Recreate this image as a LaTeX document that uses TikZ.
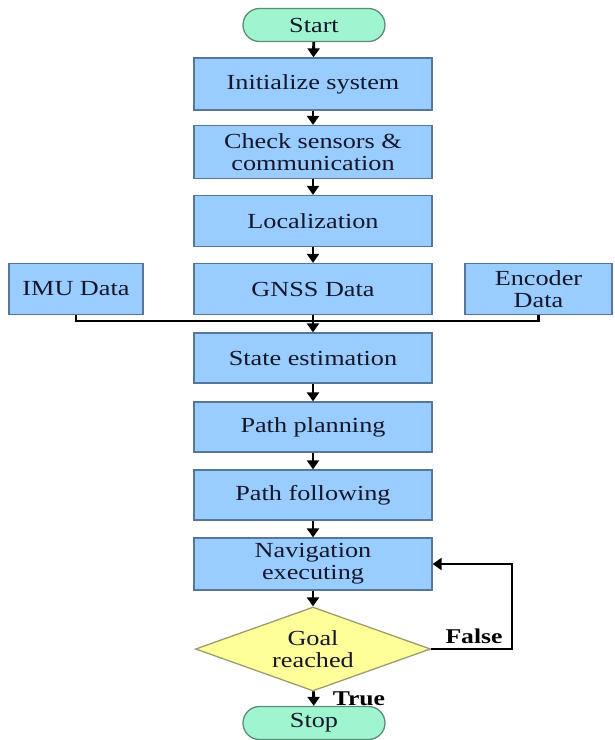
\documentclass[tikz,border=0pt]{standalone}
\usepackage{fontspec}
\setmainfont{Liberation Serif}[FakeStretch=1.22]
\usetikzlibrary{arrows.meta,calc,positioning,shapes.geometric}

\definecolor{boxblue}{HTML}{99CCFF}
\definecolor{boxedge}{HTML}{55779C}
\definecolor{termgreen}{HTML}{9EF5CE}
\definecolor{termedge}{HTML}{5C8C7A}
\definecolor{askyellow}{HTML}{FFFF99}
\definecolor{askedge}{HTML}{9C9C70}
\definecolor{ink}{HTML}{16162A}

\begin{document}
\begin{tikzpicture}
[
	              x = 1pt, y = -1pt,
	          flow/.style = { draw=black, line width=2.8pt, -{Triangle[width=12pt,length=9pt]} },
	          wire/.style = { draw=black, line width=2.8pt },
	       process/.style = { draw=boxedge, line width=1.3pt, fill=boxblue, rectangle,
	                          minimum width=238pt, minimum height=51pt, inner sep=0pt,
	                          align=center, text=ink, font=\fontsize{21.5}{22}\selectfont },
	      terminal/.style = { process, draw=termedge, fill=termgreen, rounded corners=16.5pt,
	                          minimum width=142pt, minimum height=33pt },
	      decision/.style = { process, diamond, draw=askedge, fill=askyellow, rounded corners=0pt,
	                          shape aspect=2.8, minimum width=235pt, minimum height=84pt },
	       caption/.style = { draw=none, fill=none, inner sep=0pt, text=black,
	                          font=\fontsize{21}{22}\selectfont\bfseries }
]
	\useasboundingbox (0,0) rectangle (614,740);

	% main column
	\node (start)  at (314,25)  [terminal] {Start};
	\node (init)   at (313,84)  [process, minimum height=52pt] {Initialize system};
	\node (check)  at (313,152) [process, minimum height=53pt] {Check sensors \&\\communication};
	\node (local)  at (313,221) [process] {Localization};
	\node (gnss)   at (313,289) [process] {GNSS Data};
	\node (state)  at (313,358) [process, minimum height=50pt] {State estimation};
	\node (plan)   at (313,427) [process, minimum height=50pt] {Path planning};
	\node (follow) at (313,495) [process, minimum height=50pt] {Path following};
	\node (nav)    at (313,564) [process, minimum height=52pt] {Navigation\\executing};
	\node (goal)   at (313,649) [decision] {Goal\\reached};
	\node (stop)   at (314,723) [terminal] {Stop};

	% side sensors
	\node (imu) at (76,289)    [process, minimum width=134pt] {IMU Data};
	\node (enc) at (538.5,289) [process, minimum width=147pt] {Encoder\\Data};

	\coordinate (bus)  at (313,321);
	\coordinate (back) at (512,649);

	\draw [flow] (start) -- (init);
	\draw [flow] (init) -- (check);
	\draw [flow] (check) -- (local);
	\draw [flow] (local) -- (gnss);
	\draw [wire] (imu.south) |- (bus);
	\draw [wire] (enc.south) |- (bus);
	\draw [flow] (gnss) -- (state);
	\draw [flow] (state) -- (plan);
	\draw [flow] (plan) -- (follow);
	\draw [flow] (follow) -- (nav);
	\draw [flow] (nav) -- (goal);
	\draw [flow] (goal) -- (stop);
	\draw [flow] (goal.east) -- (back) |- (nav.east);

	\node (false) at (474,636) [caption] {False};
	\node (true)  at (359,699) [caption] {True};
\end{tikzpicture}
\end{document}
